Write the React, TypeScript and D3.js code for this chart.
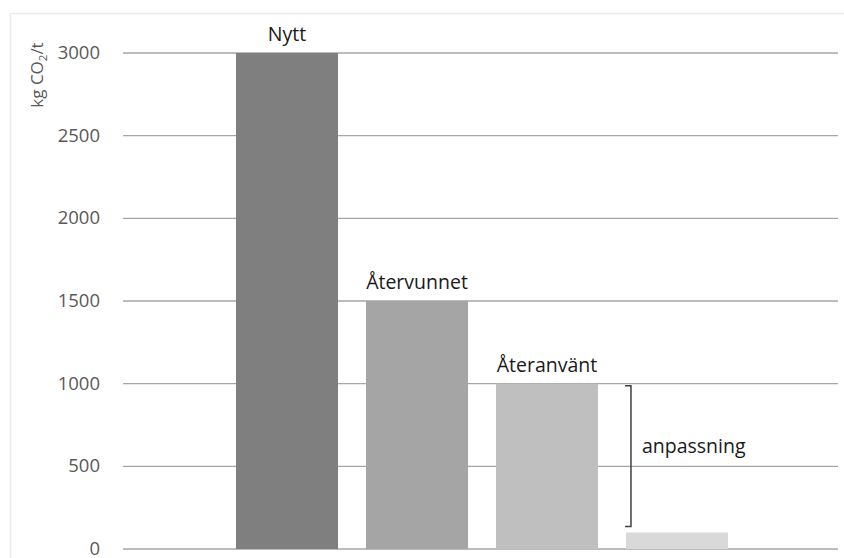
import React from "react";
import * as d3 from "d3";

const categories = ["Nytt", "Återvunnet", "Återanvänt", "Anpassat"];
const values = [3000, 1500, 1000, 100];
const barLabels = ["Nytt", "Återvunnet", "Återanvänt", ""];
const barColors = ["#7f7f7f", "#a5a5a5", "#bfbfbf", "#d9d9d9"];
const yTicks = [0, 500, 1000, 1500, 2000, 2500, 3000];
const bracketLabel = "anpassning";
const bracketRange = [1000, 100];

const W = 844;
const H = 558;
const gridLeft = 123;
const gridRight = 838;
const font = "'Open Sans', 'Noto Sans', sans-serif";

export default function App() {
  const y = d3.scaleLinear().domain([0, 3000]).range([549, 53]);
  const x = d3
    .scaleBand<string>()
    .domain(categories)
    .range([222, 742])
    .paddingInner(0.215)
    .paddingOuter(0.1075);

  const bx = x(categories[3])! + 5;
  const bTop = y(bracketRange[0]) + 2;
  const bBot = y(bracketRange[1]) - 6;

  return (
    <svg
      width={W}
      height={H}
      style={{ position: "absolute", left: 0, top: 0, background: "#fff" }}
      fontFamily={font}
    >
      {/* chart frame */}
      <path d={`M10.5,${H} V13.5 H${W}`} fill="none" stroke="#ebebeb" strokeWidth={1.5} />

      {/* gridlines */}
      {yTicks.map((t) => (
        <line
          key={t}
          x1={gridLeft}
          x2={gridRight}
          y1={y(t)}
          y2={y(t)}
          stroke="#a6a6a6"
          strokeWidth={1.3}
        />
      ))}

      {/* y tick labels */}
      {yTicks.map((t) => (
        <text
          key={"l" + t}
          x={100}
          y={y(t)}
          dy="0.33em"
          textAnchor="end"
          fontSize={18.5}
          fill="#595959"
        >
          {t}
        </text>
      ))}

      {/* y axis title */}
      <text
        transform="translate(43,75) rotate(-90)"
        textAnchor="middle"
        fontSize={17}
        fill="#595959"
      >
        kg CO
        <tspan fontSize={11.5} dy={4}>2</tspan>
        <tspan dy={-4}>/t</tspan>
      </text>

      {/* bars */}
      {categories.map((c, i) => (
        <rect
          key={c}
          x={x(c)}
          y={y(values[i])}
          width={x.bandwidth()}
          height={y(0) - y(values[i])}
          fill={barColors[i]}
        />
      ))}

      {/* bar labels */}
      {categories.map((c, i) =>
        barLabels[i] ? (
          <text
            key={"b" + c}
            x={x(c)! + x.bandwidth() / 2}
            y={y(values[i]) - 12}
            textAnchor="middle"
            fontSize={19.5}
            fill="#1a1a1a"
          >
            {barLabels[i]}
          </text>
        ) : null
      )}

      {/* bracket */}
      <path
        d={`M${bx - 6},${bTop} H${bx} V${bBot} H${bx - 6}`}
        fill="none"
        stroke="#404040"
        strokeWidth={1.5}
      />
      <text x={bx + 11} y={y(550) - 5} fontSize={19.5} fill="#1a1a1a">
        {bracketLabel}
      </text>
    </svg>
  );
}
